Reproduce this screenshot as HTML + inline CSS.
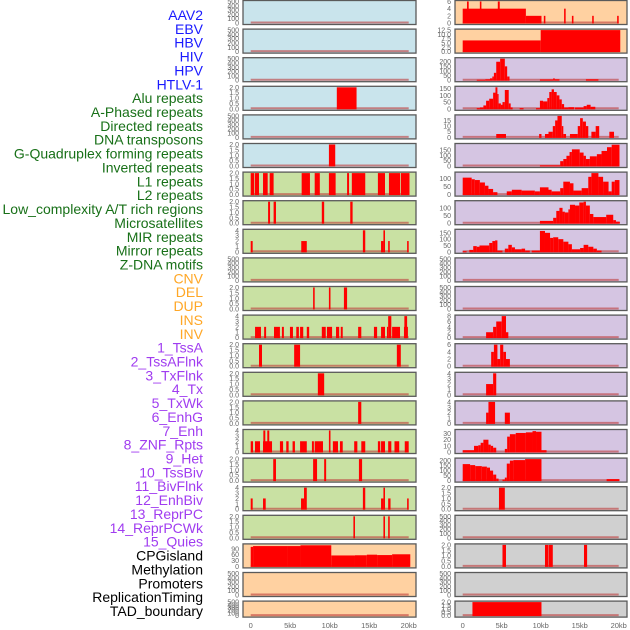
<!DOCTYPE html>
<html><head><meta charset="utf-8"><style>
html,body{margin:0;padding:0;background:#fff;}
svg{display:block;font-family:"Liberation Sans",sans-serif;}
</style></head><body>
<svg id="chart" width="630" height="630" viewBox="0 0 630 630"></svg>
<script>
const trackLabels=["AAV2","EBV","HBV","HIV","HPV","HTLV-1","Alu repeats","A-Phased repeats","Directed repeats","DNA transposons","G-Quadruplex forming repeats","Inverted repeats","L1 repeats","L2 repeats","Low_complexity A/T rich regions","Microsatellites","MIR repeats","Mirror repeats","Z-DNA motifs","CNV","DEL","DUP","INS","INV","1_TssA","2_TssAFlnk","3_TxFlnk","4_Tx","5_TxWk","6_EnhG","7_Enh","8_ZNF_Rpts","9_Het","10_TssBiv","11_BivFlnk","12_EnhBiv","13_ReprPC","14_ReprPCWk","15_Quies","CPGisland","Methylation","Promoters","ReplicationTiming","TAD_boundary"];
const labelGroups=[6,13,5,15,5];
const xTickValues=[0,5,10,15,20];
const xTickLabels=["0","5kb","10kb","15kb","20kb"];
const leftBg=["b","b","b","b","b","b","g","g","g","g","g","g","g","g","g","g","g","g","g","o","o","o"];
const rightBg=["o","o","p","p","p","p","p","p","p","p","p","p","p","p","p","p","p","v","v","v","v","v"];
const leftMax=[500,500,500,2,500,2,2,2,4,500,2,4,2,2,2,4,2,4,2,110,500,500];
const rightMax=[6,12.5,233,160,19,200,133,140,170,500,500,8,6,4,4,35,215,2,500,2,500,2];
const T500=["0","100","200","300","400","500"],T2=["0.0","0.5","1.0","1.5","2.0"],T4=["0","1","2","3","4"];
const leftTicks=[T500,T500,T500,T2,T500,T2,T2,T2,T4,T500,T2,T4,T2,T2,T2,T4,T2,T4,T2,["0","30","60","90"],T500,T500];
const rightTicks=[["0","2","4","6"],["0.0","2.5","5.0","7.5","10.0","12.5"],["0","50","100","150","200"],["0","50","100","150"],["0","5","10","15"],["0","50","100","150"],["0","50","100"],["0","50","100"],["0","50","100","150"],T500,T500,["0","2","4","6","8"],["0","2","4","6"],T4,T4,["0","10","20","30"],["0","50","100","150","200"],T2,T500,T2,T500,T2];
// segments: [startKb, endKb, value]
const L0=[],L1=[],L2=[],L4=[],L9=[],L20=[],L21=[];
const L3=[[10.9,13.4,2]];
const L5=[[9.9,10.7,2]];
const L6=[[0,0.45,2],[0.54,1.05,2],[1.56,2.15,2],[2.4,2.9,2],[6.45,7.5,2],[8.1,8.75,2],[9.9,10.75,2],[12.2,12.45,2],[12.8,14.5,2],[16.1,17.0,2],[17.5,18.9,2],[19.0,20.1,2]];
const L7=[[2.2,2.45,2],[2.9,3.2,2],[9.0,9.3,2],[12.6,12.9,2]];
const L8=[[0,0.25,2],[6.4,7.1,2],[14.2,14.5,4],[16.5,16.8,2],[16.8,17.0,4],[17.4,17.6,2],[19.8,20.0,2]];
const L10=[[7.9,8.1,2],[9.9,10.1,2],[11.8,12.2,2]];
const L11=[[0.55,1.3,2],[1.7,1.95,2],[2.95,3.7,2],[3.95,4.2,2],[4.97,5.35,2],[5.77,6.1,2],[6.25,6.65,2],[7.1,7.4,2],[9.0,9.5,2],[9.65,10.3,2],[10.8,11.2,2],[11.4,11.65,2],[13.6,14.0,2],[15.6,16.0,2],[16.5,17.0,2],[17.25,17.4,2],[17.4,17.8,4],[17.9,18.9,2],[19.4,19.9,2],[19.45,19.8,4]];
const L12=[[1.05,1.43,2],[5.5,6.25,2],[18.5,19.0,2]];
const L13=[[8.5,9.3,2]];
const L14=[[13.6,14.0,2]];
const L15=[[0,0.3,2],[0.54,1.18,2],[1.56,2.7,2],[1.6,1.85,4],[2.1,2.35,4],[3.7,4.1,2],[4.5,4.8,2],[5.3,5.6,2],[6.25,7.1,2],[7.75,8.0,2],[8.1,9.15,2],[9.9,10.1,4],[10.4,11.05,2],[11.3,11.65,2],[13.1,13.5,2],[14.0,14.5,2],[16.1,16.4,2],[16.5,17.0,2],[17.4,17.8,2],[18.2,18.8,2],[19.5,20.0,2]];
const L16=[[2.85,3.2,2],[7.9,8.4,2],[9.3,9.55,2],[13.7,14.1,2]];
const L17=[[0,0.25,2],[1.56,1.9,2],[6.37,6.75,2],[6.75,7.1,4],[14.2,14.5,4],[16.5,16.8,2],[16.8,17.0,4],[17.4,17.7,2],[19.8,20.0,2]];
const L18=[[13.0,13.2,2],[16.8,17.0,2],[17.4,17.6,2]];
const L19=[[0,0.3,100],[0.3,4.6,104],[4.6,6.3,104],[6.3,10.2,108],[10.2,13.2,56],[13.2,14.7,57],[14.7,16.0,60],[16.0,17.9,58],[17.9,20.2,62]];
const R9=[],R10=[],R18=[],R20=[];
const R0=[[0,8.1,4],[8.1,10.1,2],[0.55,0.77,6],[2.2,2.4,6],[4.5,4.75,6],[10.4,10.6,2],[13.0,13.2,4],[14.0,14.2,2],[16.6,16.8,2],[19.8,20.0,2]];
const R1=[[0,10.0,6.5],[10.0,20.2,12.5]];
const R2=[[1.8,2.9,5],[2.9,3.5,10],[3.5,3.8,20],[3.8,4.0,40],[4.0,4.3,80],[4.3,4.8,200],[4.8,5.4,233],[5.4,5.7,150],[5.7,6.0,40],[9.9,11.6,8],[11.6,11.8,20],[11.8,12.4,10],[15.8,17.4,10]];
const R3=[[1.8,2.2,5],[2.2,2.65,10],[2.65,3.0,25],[3.0,3.4,60],[3.4,3.9,75],[3.9,4.2,120],[4.2,4.45,165],[4.45,4.6,110],[4.6,4.9,40],[4.9,5.1,30],[5.1,5.4,50],[5.4,5.9,140],[5.9,6.15,40],[6.15,6.4,10],[7.3,7.8,5],[9.4,9.9,5],[9.9,10.3,60],[10.3,10.85,55],[10.85,11.1,80],[11.1,11.4,125],[11.4,11.7,145],[11.7,12.05,125],[12.05,12.4,100],[12.4,12.7,70],[12.7,13.0,35],[13.0,13.55,10],[13.55,14.3,12],[14.4,15.5,10],[15.5,15.9,20],[15.9,16.4,30],[16.4,17.0,15]];
const R4=[[4.3,5.55,3],[9.8,10.1,3],[10.55,11.0,3],[11.0,11.55,5],[11.55,11.85,10],[11.85,12.15,15],[12.15,12.7,19],[12.7,12.9,10],[12.9,13.25,3],[13.75,14.75,3],[14.75,15.05,10],[15.05,15.4,17],[15.4,15.8,14],[15.8,16.1,10],[16.5,17.05,5],[17.05,17.5,10],[18.8,19.4,5]];
const R5=[[9.9,12.5,6],[12.5,12.9,45],[12.9,13.3,65],[13.3,13.7,95],[13.7,14.0,130],[14.0,15.0,155],[15.0,15.5,125],[15.5,15.8,95],[15.8,16.3,65],[16.3,17.2,90],[17.2,17.8,110],[17.8,18.5,140],[18.5,19.1,175],[19.1,20.1,198]];
const R6=[[0,1.15,105],[1.15,1.55,95],[1.55,2.2,90],[2.2,2.85,75],[2.85,3.3,55],[3.3,3.9,35],[3.9,4.45,15],[5.65,6.3,20],[6.3,7.55,30],[7.55,9.25,25],[9.25,9.9,20],[9.9,11.0,45],[11.0,11.4,30],[11.4,12.5,20],[12.5,12.9,40],[12.9,13.75,80],[13.75,14.2,70],[14.2,15.25,25],[15.25,16.1,40],[16.1,16.5,110],[16.5,17.4,133],[17.4,18.0,110],[18.0,18.7,80],[18.7,19.1,20],[19.1,19.5,80],[19.5,20.1,90]];
const R7=[[9.9,11.6,15],[11.6,12.0,35],[12.0,12.4,80],[12.4,12.8,100],[12.8,13.1,75],[13.1,13.55,70],[13.55,13.75,90],[13.75,14.4,120],[14.4,14.95,115],[14.95,15.5,135],[15.5,15.8,140],[15.8,16.3,115],[16.3,16.75,60],[16.75,18.4,40],[18.4,19.3,55],[19.3,19.65,20],[19.65,20.15,10]];
const R8=[[0,0.5,5],[0.85,1.35,15],[1.35,1.8,45],[1.8,2.15,40],[2.15,3.4,50],[3.4,3.8,70],[3.8,4.15,85],[4.15,4.45,90],[4.45,5.1,10],[5.4,5.85,25],[5.85,6.3,55],[6.3,6.7,35],[6.7,7.55,20],[7.55,8.0,25],[8.0,8.6,10],[8.85,9.9,10],[9.9,10.55,165],[10.55,11.2,150],[11.2,11.6,110],[11.6,12.25,115],[12.25,12.9,100],[12.9,13.55,80],[13.55,14.0,60],[14.0,15.05,20],[15.05,15.5,30],[15.5,16.1,55],[16.1,16.75,40],[16.75,17.2,25],[17.2,17.8,10]];
const R11=[[3.0,3.9,2],[3.9,4.3,4],[4.3,5.0,6],[5.0,5.55,8],[5.55,5.85,2]];
const R12=[[3.65,4.0,4],[4.0,4.45,6],[4.45,4.8,2],[4.8,5.2,6],[5.2,5.55,4],[5.55,6.05,2]];
const R13=[[3.0,3.9,2],[3.9,4.3,4]];
const R14=[[3.0,3.3,2],[3.3,4.15,4],[5.4,6.05,2]];
const R15=[[0,1.45,3],[1.45,2.0,10],[2.0,2.3,11],[2.3,2.65,15],[2.65,3.3,20],[3.3,3.6,12],[3.6,3.9,10],[3.9,4.3,7],[5.4,5.7,5],[5.7,6.05,25],[6.05,6.8,29],[6.8,8.1,31],[8.1,8.95,32],[8.95,9.4,34],[9.4,10.1,33],[10.1,10.75,3]];
const R16=[[0,0.95,165],[0.95,1.6,155],[1.6,2.45,145],[2.45,3.1,140],[3.1,3.5,130],[3.5,3.9,100],[3.9,4.3,60],[4.3,4.6,20],[5.1,5.4,10],[5.4,5.65,30],[5.65,6.05,170],[6.05,6.5,200],[6.5,8.0,205],[8.0,10.1,215],[18.45,20.1,15]];
const R17=[[4.65,5.4,2]];
const R19=[[5.1,5.55,2],[10.55,11.0,2],[11.05,11.55,2],[15.55,15.95,2]];
const R21=[[1.25,10.1,2]];
const leftData=[L0,L1,L2,L3,L4,L5,L6,L7,L8,L9,L10,L11,L12,L13,L14,L15,L16,L17,L18,L19,L20,L21];
const rightData=[R0,R1,R2,R3,R4,R5,R6,R7,R8,R9,R10,R11,R12,R13,R14,R15,R16,R17,R18,R19,R20,R21];

const NS="http://www.w3.org/2000/svg";
const svg=document.getElementById('chart');
const BG={b:"#c9e4ec",g:"#c9e1a3",o:"#ffd1a1",p:"#d5c5e2",v:"#d0d0d0"};
const COLS=[{x:243,w:173,x0:250.7,k:7.9,tx:239,data:leftData,bg:leftBg,max:leftMax,ticks:leftTicks,side:'left'},
            {x:455,w:172,x0:462.7,k:7.8,tx:451,data:rightData,bg:rightBg,max:rightMax,ticks:rightTicks,side:'right'}];
function mk(tag,attrs){const e=document.createElementNS(NS,tag);for(const a in attrs)e.setAttribute(a,attrs[a]);svg.appendChild(e);return e;}
function rowTop(i){return 0.5+i*28.6;}
function rowH(i){return i===21?16:24;}

const groupColors=["#1a1aff","#187018","#ffa726","#a03cf0","#000000"];
let gi=0,gc=0;
trackLabels.forEach((t,k)=>{
  while(gc>=labelGroups[gi]){gi++;gc=0;}
  gc++;
  const e=mk('text',{x:203,y:15+k*13.86+5,'text-anchor':'end','font-size':'14',fill:groupColors[gi]});
  e.textContent=t;
  
  
});

COLS.forEach(c=>{
  const xs=v=>c.x0+v*c.k;
  for(let i=0;i<22;i++){
    const top=rowTop(i),h=rowH(i),bot=top+h;
    const yMax=c.max[i];
    const ys=v=>bot-1.5-Math.min(v,yMax)/yMax*(h-2.5);
    const r=mk('rect',{x:c.x,y:top,width:c.w,height:h,fill:BG[c.bg[i]],stroke:'none'});
    
    
    const bl=mk('line',{x1:xs(0),x2:xs(20),y1:bot-2,y2:bot-2,stroke:'rgba(190,60,60,0.6)','stroke-width':2});
    
    
    c.data[i].forEach(s=>{
      const y=ys(s[2]);
      const b=mk('rect',{x:xs(s[0]),y:y,width:Math.max(0.8,(s[1]-s[0])*c.k),height:Math.max(0,bot-1-y),fill:'#ff0000'});
      
      
    });
    const fr=mk('rect',{x:c.x,y:top,width:c.w,height:h,fill:'none',stroke:'#5a5a5a','stroke-width':1.3});
    
    
    c.ticks[i].forEach(tl=>{
      const v=parseFloat(tl);
      const t=mk('text',{x:c.tx,y:ys(v)+2.5,'text-anchor':'end','font-size':'7',fill:'#666'});
      t.textContent=tl;
      
      
    });
  }
  xTickValues.forEach((v,j)=>{
    const t=mk('text',{x:xs(v),y:628,'text-anchor':'middle','font-size':'7.5',fill:'#666'});
    t.textContent=xTickLabels[j];
    
    
  });
});
</script>
</body></html>
